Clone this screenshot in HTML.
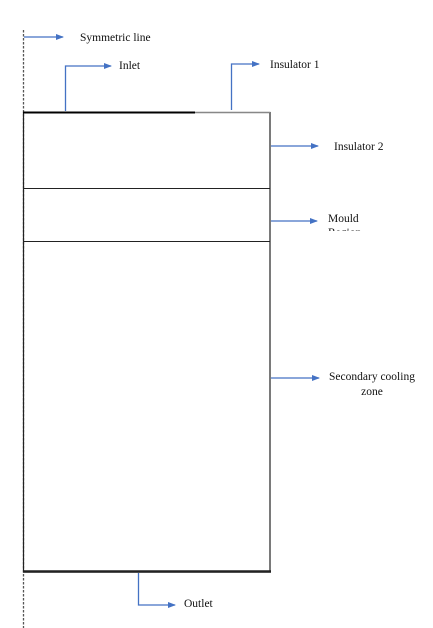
<!DOCTYPE html>
<html><head><meta charset="utf-8"><style>
html,body{margin:0;padding:0;background:#fff;}
svg{display:block;}
text{font-family:"Liberation Serif",serif;font-size:11.5px;fill:#111;}
</style></head><body>
<svg width="433" height="628" viewBox="0 0 433 628" xmlns="http://www.w3.org/2000/svg">
<defs>
<marker id="a" markerWidth="8" markerHeight="6" refX="7" refY="3" orient="auto" markerUnits="userSpaceOnUse">
<path d="M0,0 L8,3 L0,6 Z" fill="#4472c4"/></marker>
<clipPath id="c"><rect x="320" y="205" width="80" height="26"/></clipPath>
</defs>
<line x1="23.5" y1="30" x2="23.5" y2="628" stroke="#555" stroke-width="1.3" stroke-dasharray="2.5,1.5"/>
<rect x="23.5" y="112.5" width="246.5" height="459.5" fill="none" stroke="#222" stroke-width="1.2"/>
<line x1="23" y1="112.5" x2="195" y2="112.5" stroke="#000" stroke-width="2"/>
<line x1="195" y1="112.5" x2="270" y2="112.5" stroke="#888" stroke-width="1.2"/>
<line x1="23.5" y1="188.5" x2="270" y2="188.5" stroke="#222" stroke-width="1"/>
<line x1="23.5" y1="241.5" x2="270" y2="241.5" stroke="#222" stroke-width="1"/>
<line x1="23" y1="571.5" x2="271" y2="571.5" stroke="#222" stroke-width="2.5"/>
<g stroke="#4472c4" stroke-width="1.3" fill="none" marker-end="url(#a)">
<polyline points="24,37 63,37"/>
<polyline points="65.5,111 65.5,66 111,66"/>
<polyline points="231.5,110 231.5,64 259,64"/>
<polyline points="271,146 318,146"/>
<polyline points="271,221 317,221"/>
<polyline points="271,378 319,378"/>
<polyline points="138.5,573 138.5,605 175,605"/>
</g>
<text x="80" y="41">Symmetric line</text>
<text x="119" y="69">Inlet</text>
<text x="270" y="68">Insulator 1</text>
<text x="334" y="150">Insulator 2</text>
<text x="328" y="222">Mould</text>
<text x="328" y="236" clip-path="url(#c)">Region</text>
<text x="372" y="380" text-anchor="middle">Secondary cooling</text>
<text x="372" y="395" text-anchor="middle">zone</text>
<text x="184" y="607">Outlet</text>
</svg>
</body></html>
